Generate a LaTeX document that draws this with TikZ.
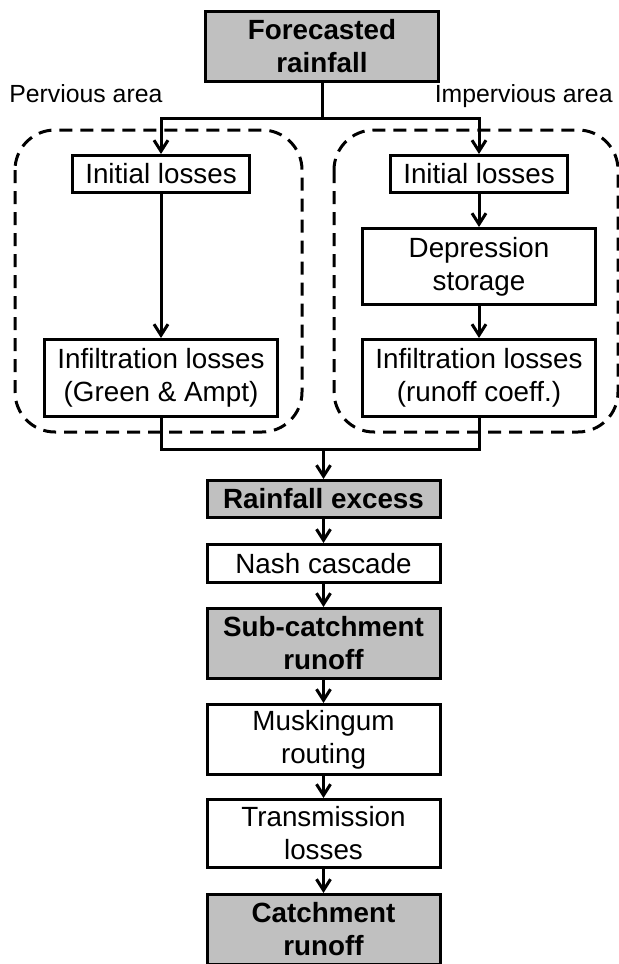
\documentclass[tikz,border=0pt]{standalone}
\usepackage{fontspec}
\setmainfont{Liberation Sans}
\usetikzlibrary{arrows.meta}
\definecolor{boxgray}{RGB}{192,192,192}

\begin{document}
\begin{tikzpicture}[x=0.5pt,y=-0.5pt,
   box/.style={draw,line width=1.5pt,inner sep=0pt,align=center,minimum width=116.5pt,
      font=\fontsize{13.9}{16.5}\selectfont},
   initbox/.style={box,minimum width=88.5pt,minimum height=18.5pt},
   result/.style={box,fill=boxgray,font=\fontsize{13.9}{16.5}\selectfont\bfseries},
   zone/.style={line width=1.5pt,rounded corners=20pt,dash pattern=on 6.5pt off 4pt},
   flow/.style={line width=1.5pt},
   arrow/.style={flow,-{Straight Barb[length=5.5pt,width=7pt]}},
   areaname/.style={font=\fontsize{12.4}{15}\selectfont,inner sep=0pt}]
   \useasboundingbox (0,0) rectangle (619,964);
   % dashed areas
   \draw[zone] (15,130) rectangle (302,432);
   \draw[zone] (334,130) rectangle (618,432);
   \node[areaname,anchor=base west] (plabel) at (9,102) {Pervious area};
   \node[areaname,anchor=base east] (ilabel) at (613,102) {Impervious area};
   % boxes
   \node[result,minimum height=35pt] (rain) at (322,46.5) {Forecasted\\rainfall};
   \node[initbox] (pinit) at (161,174) {Initial losses};
   \node[initbox] (iinit) at (479,174) {Initial losses};
   \node[box,minimum height=38.5pt] (pinf) at (161,378) {Infiltration losses\\(Green \& Ampt)};
   \node[box,minimum height=38pt] (idep) at (479,266.5) {Depression\\storage};
   \node[box,minimum height=38.5pt] (iinf) at (479,378) {Infiltration losses\\(runoff coeff.)};
   \node[result,minimum height=18.5pt] (excess) at (323.5,499) {Rainfall excess};
   \node[box,minimum height=19pt] (nash) at (323.5,563.5) {Nash cascade};
   \node[result,minimum height=35pt] (sub) at (323.5,643.5) {Sub-catchment\\runoff};
   \node[box,minimum height=35pt] (musk) at (323.5,739.5) {Muskingum\\routing};
   \node[box,minimum height=34pt] (trans) at (323.5,833.5) {Transmission\\losses};
   \node[result,minimum height=35pt] (catch) at (323.5,929.5) {Catchment\\runoff};
   % connectors
   \coordinate (fork) at (322,118);
   \coordinate (join) at (323.5,449);
   \draw[flow] (rain) -- (fork);
   \draw[arrow] (fork) -| (pinit);
   \draw[arrow] (fork) -| (iinit);
   \draw[arrow] (pinit) -- (pinf);
   \draw[arrow] (iinit) -- (idep);
   \draw[arrow] (idep) -- (iinf);
   \draw[flow] (pinf) |- (join);
   \draw[flow] (iinf) |- (join);
   \draw[arrow] (join) -- (excess);
   \foreach \a/\b in {excess/nash,nash/sub,sub/musk,musk/trans,trans/catch} {
      \draw[arrow] (\a) -- (\b);
   }
\end{tikzpicture}
\end{document}
